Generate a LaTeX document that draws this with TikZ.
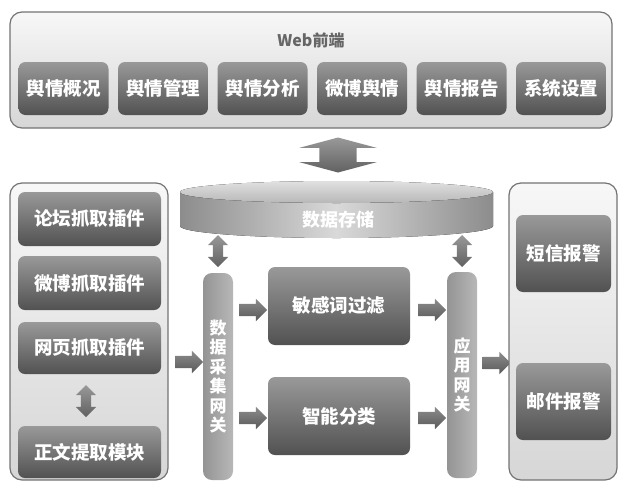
\documentclass[tikz,border=0pt]{standalone}
\usepackage{fontspec}
\newfontfamily\cjk{Noto Sans CJK SC}
\usetikzlibrary{shapes.arrows}
\begin{document}
\begin{tikzpicture}[x=1pt,y=-1pt,
    panel/.style={draw=black!55, line width=1.2pt, rounded corners=12pt, top color=black!3, bottom color=black!16},
    btn/.style={rounded corners=7pt, top color=black!40, bottom color=black!68, text=white, font=\cjk\bfseries\fontsize{18.5}{18.5}\selectfont},
    bar/.style={rounded corners=9pt, left color=black!42, right color=black!28, text=white, align=center, text width=17pt, inner xsep=0pt, font=\cjk\bfseries\fontsize{17}{19.5}\selectfont},
    rarrow/.style={single arrow, top color=black!45, bottom color=black!65, inner xsep=0pt, inner ysep=6pt, single arrow head extend=5pt, minimum height=28pt},
    udarrow/.style={double arrow, rotate=90, top color=black!40, bottom color=black!62, inner xsep=0pt, inner ysep=5pt, double arrow head extend=5pt, minimum height=32pt}
  ]
  \useasboundingbox (0,0) rectangle (621,482);
  % Web前端
  \node (web) at (311,70) [panel, minimum width=602pt, minimum height=116pt] {};
  \node (webtitle) at (311,40) [font=\cjk\bfseries\fontsize{16}{16}\selectfont, text=black!60] {Web前端};
  \node (m1) at (63.5,88.5) [btn, minimum width=90pt, minimum height=53pt] {舆情概况};
  \node (m2) at (163,88.5) [btn, minimum width=90pt, minimum height=53pt] {舆情管理};
  \node (m3) at (262.5,88.5) [btn, minimum width=90pt, minimum height=53pt] {舆情分析};
  \node (m4) at (362,88.5) [btn, minimum width=90pt, minimum height=53pt] {微博舆情};
  \node (m5) at (461.5,88.5) [btn, minimum width=90pt, minimum height=53pt] {舆情报告};
  \node (m6) at (561,88.5) [btn, minimum width=90pt, minimum height=53pt] {系统设置};
  \node (aweb) at (338,155) [double arrow, rotate=90, top color=black!40, bottom color=black!62, inner xsep=0pt, inner ysep=18.5pt, double arrow head extend=20pt, double arrow tip angle=150, minimum height=35pt] {};

  % 数据存储
  \fill[left color=black!45, right color=black!45, middle color=black!15] (180,192) -- (180,226) arc[start angle=180, end angle=360, x radius=156.5pt, y radius=12pt] -- (493,192) -- cycle;
  \fill[top color=black!12, bottom color=black!28] (336.5,192) ellipse[x radius=156.5pt, y radius=11pt];
  \node (store) at (338,220) [text=white, font=\cjk\bfseries\fontsize{18}{18}\selectfont] {数据存储};

  % 抓取插件
  \node (src) at (89,331.5) [panel, minimum width=158pt, minimum height=297pt] {};
  \node (s1) at (89.5,219) [btn, minimum width=143pt, minimum height=54pt] {论坛抓取插件};
  \node (s2) at (89.5,283) [btn, minimum width=143pt, minimum height=54pt] {微博抓取插件};
  \node (s3) at (89.5,348) [btn, minimum width=143pt, minimum height=52pt] {网页抓取插件};
  \node (s4) at (89.5,452) [btn, minimum width=143pt, minimum height=52pt] {正文提取模块};
  \node (as) at (86,401) [udarrow] {};

  % 网关与处理
  \node (gwin) at (218,376.5) [bar, minimum width=30pt, minimum height=207pt] {数\\据\\采\\集\\网\\关};
  \node (gwout) at (462,375) [bar, minimum width=30pt, minimum height=206pt] {应\\用\\网\\关};
  \node (filter) at (339,306) [btn, minimum width=142pt, minimum height=78pt] {敏感词过滤};
  \node (classify) at (339,416) [btn, minimum width=142pt, minimum height=78pt] {智能分类};
  \node (ain) at (218,251) [udarrow] {};
  \node (aout) at (462,251) [udarrow] {};
  \node (a1) at (186,362) [rarrow] {};
  \node (a2) at (250,310) [rarrow] {};
  \node (a3) at (250,418) [rarrow] {};
  \node (a4) at (429,310) [rarrow] {};
  \node (a5) at (429,418) [rarrow] {};
  \node (a6) at (493.5,363) [rarrow] {};

  % 报警
  \node (alarm) at (563,331.5) [panel, minimum width=108pt, minimum height=297pt] {};
  \node (sms) at (563.5,253.5) [btn, minimum width=95pt, minimum height=77pt] {短信报警};
  \node (mail) at (563.5,401.5) [btn, minimum width=95pt, minimum height=77pt] {邮件报警};
\end{tikzpicture}
\end{document}
